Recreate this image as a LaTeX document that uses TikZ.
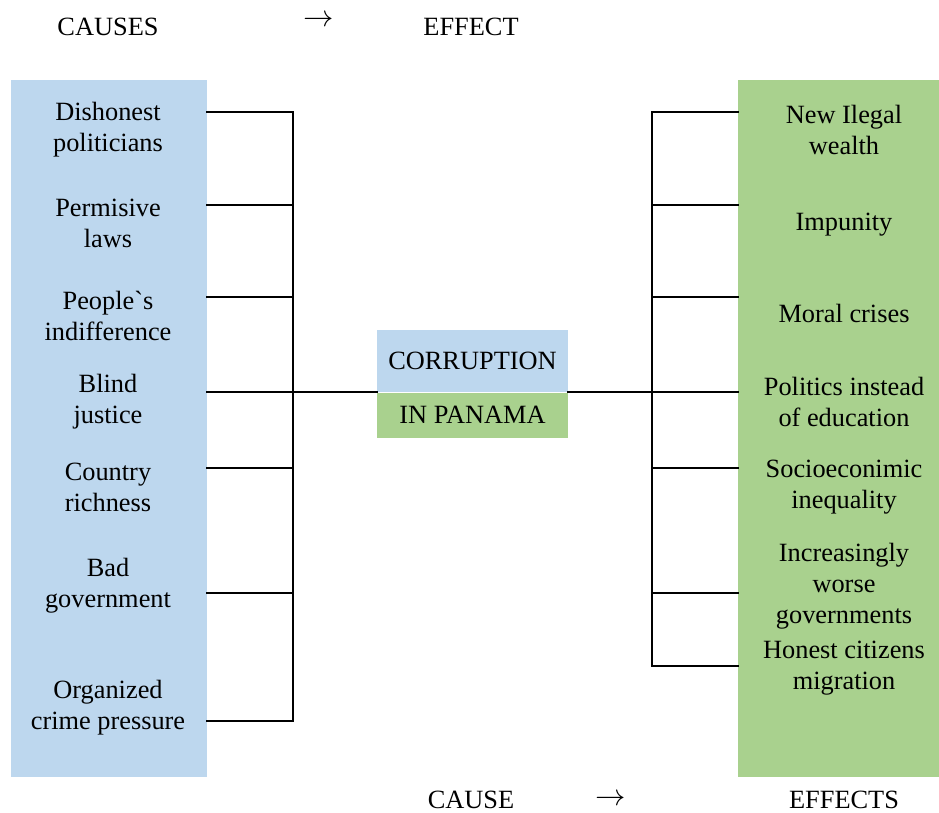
\documentclass[tikz,border=0pt]{standalone}
\usepackage{fontspec}
\setmainfont{Liberation Serif}
\usetikzlibrary{positioning}

\definecolor{causeblue}{HTML}{BDD7EE}
\definecolor{effectgreen}{HTML}{A9D18E}

\begin{document}
\begin{tikzpicture}[x=0.02cm, y=-0.02cm,
    every node/.style={font=\fontsize{15}{17.6}\selectfont, align=center, inner sep=0pt},
    column/.style={minimum width=#1, minimum height=13.94cm},
    arrowsign/.style={font=\fontsize{19}{20}\selectfont},
    link/.style={line width=1.3pt, line cap=rect}]
    \useasboundingbox (0,0) rectangle (939,813);

    % Antraštės
    \node (causeshead) at (108,27) {CAUSES};
    \node[arrowsign] (toparrow) at (319,21) {$\rightarrow$};
    \node (effecthead) at (471,27) {EFFECT};
    \node (causefoot) at (471,800) {CAUSE};
    \node[arrowsign] (botarrow) at (611,800) {$\rightarrow$};
    \node (effectsfoot) at (844,800) {EFFECTS};

    % Spalvoti stulpeliai
    \node[column=3.92cm, fill=causeblue] (causes) at (109,428.5) {};
    \node[column=4.02cm, fill=effectgreen] (effects) at (838.5,428.5) {};

    % Centrinė tema
    \node[fill=causeblue, minimum width=3.82cm, minimum height=1.24cm] (corr) at (472.5,361) {CORRUPTION};
    \node[fill=effectgreen, minimum width=3.82cm, minimum height=0.9cm, below=0pt of corr] (pan) {IN PANAMA};

    % Priežastys
    \node (c1) at (108,130) {Dishonest\\politicians};
    \node (c2) at (108,223) {Permisive\\laws};
    \node (c3) at (108,316) {People\textasciigrave s\\indifference};
    \node (c4) at (108,402) {Blind\\justice};
    \node (c5) at (108,487) {Country\\richness};
    \node (c6) at (108,586) {Bad\\government};
    \node (c7) at (108,708) {Organized\\crime pressure};

    % Pasekmės
    \node (e1) at (844,130) {New Ilegal\\wealth};
    \node (e2) at (844,225) {Impunity};
    \node (e3) at (844,313) {Moral crises};
    \node (e4) at (844,402) {Politics instead\\of education};
    \node (e5) at (844,487) {Socioeconimic\\inequality};
    \node (e6) at (844,586) {Increasingly\\worse\\governments};
    \node (e7) at (844,668) {Honest citizens\\migration};

    % Kairiosios jungtys
    \foreach \y [count=\i] in {112,205,297,392,468,593,721} {
        \coordinate (cin\i) at (causes.east |- 0,\y);
        \coordinate (cbus\i) at (293,\y);
        \draw[link] (cin\i) -- (cbus\i);
    }
    \draw[link] (cbus1) -- (cbus7);
    \draw[link] (cbus4) -- (cbus4 -| corr.west);

    % Dešiniosios jungtys
    \foreach \y [count=\i] in {112,205,297,392,468,593,666} {
        \coordinate (ein\i) at (effects.west |- 0,\y);
        \coordinate (ebus\i) at (652,\y);
        \draw[link] (ein\i) -- (ebus\i);
    }
    \draw[link] (ebus1) -- (ebus7);
    \draw[link] (ebus4 -| corr.east) -- (ebus4);
\end{tikzpicture}
\end{document}
